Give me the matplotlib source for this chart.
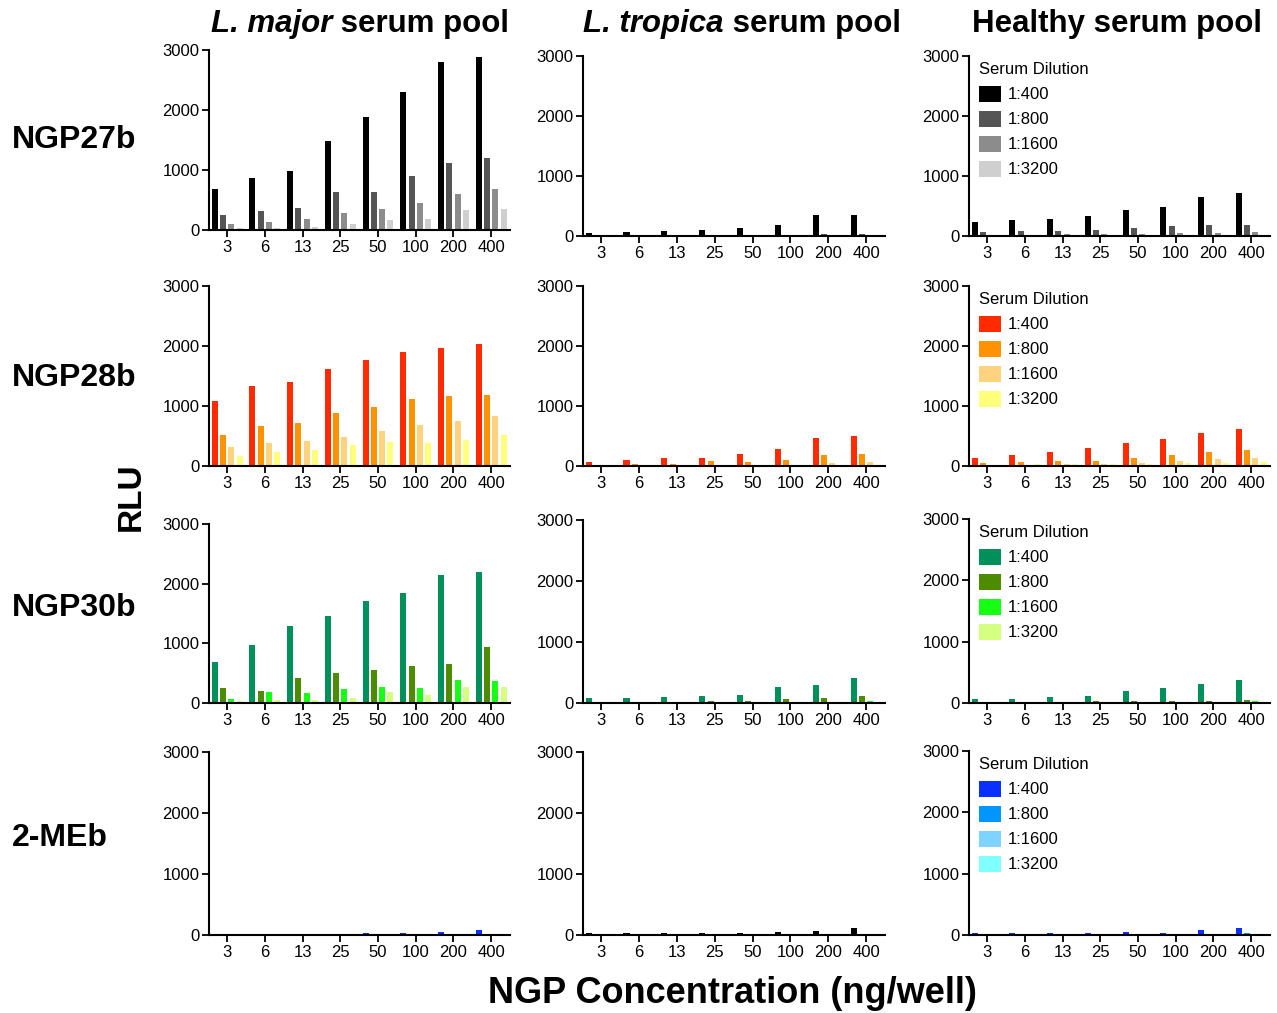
import matplotlib
matplotlib.use("Agg")
import matplotlib.pyplot as plt
import numpy as np

plt.rcParams['font.family'] = ['Liberation Sans', 'DejaVu Sans']

concentrations = ["3", "6", "13", "25", "50", "100", "200", "400"]
dilutions = ["1:400", "1:800", "1:1600", "1:3200"]
pools = ["L. major", "L. tropica", "Healthy"]
antigens = ["NGP27b", "NGP28b", "NGP30b", "2-MEb"]

# values: [1:400, 1:800, 1:1600, 1:3200] per concentration
lmajor_ngp27b = [[683, 861, 989, 1483, 1878, 2294, 2806, 2878],
                 [250, 311, 361, 628, 633, 900, 1117, 1200],
                 [100, 133, 178, 278, 350, 450, 606, 683],
                 [28, 33, 50, 106, 172, 183, 333, 356]]
ltropica_ngp27b = [[55, 70, 85, 105, 135, 180, 345, 345],
                   [5, 5, 5, 8, 17, 22, 39, 39],
                   [2, 2, 2, 3, 4, 5, 6, 6],
                   [1, 1, 1, 2, 2, 3, 3, 3]]
healthy_ngp27b = [[240, 260, 290, 340, 430, 480, 650, 710],
                  [70, 75, 90, 100, 130, 170, 190, 190],
                  [20, 20, 30, 30, 35, 45, 55, 65],
                  [5, 5, 8, 10, 10, 12, 15, 15]]

lmajor_ngp28b = [[1083, 1333, 1400, 1617, 1767, 1900, 1967, 2039],
                 [517, 672, 711, 883, 978, 1111, 1172, 1189],
                 [311, 389, 417, 489, 589, 683, 756, 839],
                 [172, 239, 272, 350, 406, 383, 439, 517]]
ltropica_ngp28b = [[61, 94, 139, 128, 200, 283, 461, 500],
                   [10, 33, 33, 83, 61, 100, 178, 200],
                   [3, 5, 5, 8, 10, 15, 50, 72],
                   [2, 2, 3, 3, 5, 8, 15, 15]]
healthy_ngp28b = [[133, 183, 228, 306, 389, 450, 544, 617],
                  [50, 67, 83, 89, 133, 189, 228, 267],
                  [15, 10, 25, 35, 45, 83, 117, 133],
                  [15, 30, 30, 35, 40, 45, 45, 67]]

lmajor_ngp30b = [[691, 966, 1298, 1466, 1708, 1843, 2152, 2197],
                 [253, 202, 421, 500, 545, 618, 652, 938],
                 [73, 180, 174, 242, 264, 253, 388, 371],
                 [34, 51, 51, 84, 180, 135, 264, 270]]
ltropica_ngp30b = [[87, 77, 93, 120, 137, 257, 295, 410],
                   [22, 5, 11, 27, 33, 60, 77, 109],
                   [3, 2, 3, 5, 5, 11, 11, 33],
                   [1, 1, 2, 2, 3, 3, 5, 5]]
healthy_ngp30b = [[66, 71, 93, 120, 191, 240, 306, 377],
                  [5, 8, 10, 27, 27, 27, 33, 44],
                  [3, 3, 5, 8, 8, 10, 12, 27],
                  [2, 2, 3, 5, 5, 5, 8, 10]]

lmajor_2meb = [[5, 5, 5, 5, 27, 27, 44, 82],
               [2, 2, 2, 3, 5, 5, 8, 10],
               [1, 1, 1, 2, 3, 3, 5, 5],
               [1, 1, 1, 1, 2, 2, 3, 3]]
ltropica_2meb = [[38, 38, 38, 33, 38, 49, 71, 109],
                 [3, 3, 3, 3, 5, 5, 8, 10],
                 [1, 1, 1, 2, 2, 3, 3, 5],
                 [1, 1, 1, 1, 1, 2, 2, 3]]
healthy_2meb = [[27, 27, 27, 27, 44, 38, 76, 120],
                [5, 5, 5, 8, 8, 10, 15, 33],
                [3, 3, 3, 3, 5, 5, 8, 10],
                [2, 2, 2, 2, 3, 3, 5, 5]]

grid_data = [[lmajor_ngp27b, ltropica_ngp27b, healthy_ngp27b],
             [lmajor_ngp28b, ltropica_ngp28b, healthy_ngp28b],
             [lmajor_ngp30b, ltropica_ngp30b, healthy_ngp30b],
             [lmajor_2meb, ltropica_2meb, healthy_2meb]]

palette_gray = ['#000000', '#555555', '#8c8c8c', '#cfcfcf']
palette_red = ['#ff2a00', '#ff9200', '#ffd27d', '#ffff7a']
palette_green = ['#00905a', '#4d8c00', '#14ff14', '#d4ff80']
palette_blue = ['#0a30ff', '#0096ff', '#7fd4ff', '#80ffff']
# panel-specific palettes (2-MEb L. tropica drawn in gray)
panel_palettes = [[palette_gray, palette_gray, palette_gray],
                  [palette_red, palette_red, palette_red],
                  [palette_green, palette_green, palette_green],
                  [palette_blue, palette_gray, palette_blue]]

W, H = 1277, 1013
fig = plt.figure(figsize=(W / 100, H / 100), dpi=100)

col_x = [(209, 510), (583, 885), (969, 1270)]
row_y = [[(50, 230), (56, 236), (56, 236)],
         [(286, 466), (286, 466), (286, 466)],
         [(524, 703), (520, 703), (519, 703)],
         [(752, 935), (752, 935), (751, 935)]]

x = np.arange(len(concentrations))
offsets = (np.arange(4) - 1.5) * 0.22
bw = 0.16

for r in range(4):
    for c in range(3):
        x0, x1 = col_x[c]
        yt, yb = row_y[r][c]
        ax = fig.add_axes([x0 / W, 1 - yb / H, (x1 - x0) / W, (yb - yt) / H])
        data = grid_data[r][c]
        cols = panel_palettes[r][c]
        for k in range(4):
            ax.bar(x + offsets[k], data[k], width=bw, color=cols[k],
                   label=dilutions[k], linewidth=0)
        ax.set_ylim(0, 3000)
        ax.set_xlim(-0.48, 7.5)
        ax.set_yticks([0, 1000, 2000, 3000])
        ax.set_xticks(x)
        ax.set_xticklabels(concentrations)
        for s in ['top', 'right']:
            ax.spines[s].set_visible(False)
        for s in ['left', 'bottom']:
            ax.spines[s].set_linewidth(1.5)
        ax.tick_params(labelsize=12, length=5, width=1.3, pad=2)
        if c == 2:
            ax.legend(title="Serum Dilution", loc='upper left',
                      bbox_to_anchor=(0.0, 1.02), frameon=False,
                      fontsize=12, title_fontsize=12,
                      handlelength=1.3, handleheight=1.1,
                      labelspacing=0.5, handletextpad=0.45,
                      alignment='left', borderaxespad=0.2)

# column titles
title_centers = [360, 742, 1117]
title_y = 24
fig.canvas.draw()
renderer = fig.canvas.get_renderer()
for i, p in enumerate(pools):
    if p == "Healthy":
        fig.text(title_centers[i] / W, 1 - title_y / H, "Healthy serum pool",
                 fontsize=22.5, fontweight='bold', ha='center', va='center')
    else:
        t1 = fig.text(0, 1 - title_y / H, p, fontsize=22.5, fontweight='bold',
                      fontstyle='italic', ha='left', va='center')
        t2 = fig.text(0, 1 - title_y / H, " serum pool", fontsize=22.5,
                      fontweight='bold', ha='left', va='center')
        w1 = t1.get_window_extent(renderer).width
        w2 = t2.get_window_extent(renderer).width
        left = title_centers[i] - (w1 + w2) / 2
        t1.set_x(left / W)
        t2.set_x((left + w1) / W)

row_label_y = [140, 378, 608, 838]
for i, a in enumerate(antigens):
    fig.text(12 / W, 1 - row_label_y[i] / H, a, fontsize=23,
             fontweight='bold', ha='left', va='center')

fig.text(131 / W, 1 - 497 / H, "RLU", fontsize=24, fontweight='bold',
         rotation=90, ha='center', va='center')
fig.text(732 / W, 1 - 993 / H, "NGP Concentration (ng/well)", fontsize=26,
         fontweight='bold', ha='center', va='center')

fig.savefig("out.png", dpi=100)
